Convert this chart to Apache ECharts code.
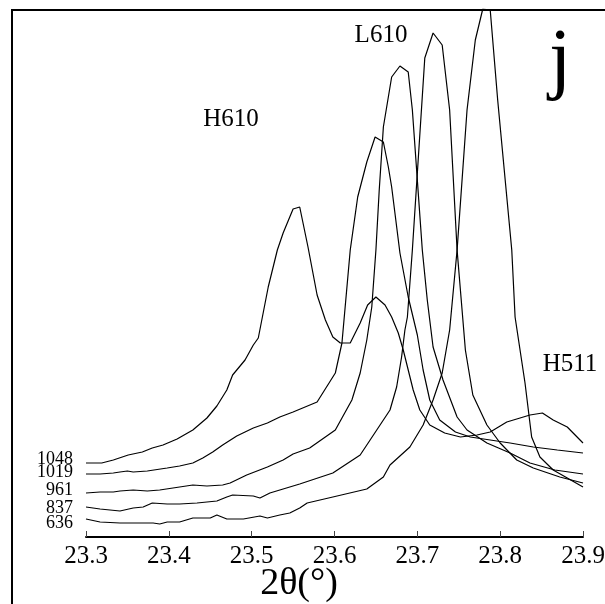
<!DOCTYPE html>
<html>
<head>
<meta charset="utf-8">
<script src="https://cdn.jsdelivr.net/npm/echarts@6/dist/echarts.min.js"></script>
<style>
html,body{margin:0;padding:0;background:#fff;overflow:hidden;}
#chart{width:605px;height:604px;}
</style>
</head>
<body>
<div id="chart"></div>
<script>
// temperatures (curve labels), top to bottom
const temps = ['1048', '1019', '961', '837', '636'];

// [2theta (deg), intensity (arb. units)]
const s1048 = [[23.300,74],[23.319,74],[23.333,77],[23.351,82],[23.368,85],[23.380,89],[23.393,92],[23.410,98],[23.429,107],[23.446,119],[23.458,131],[23.470,147],[23.477,162],[23.492,177],[23.502,192],[23.508,199],[23.520,250],[23.531,287],[23.538,304],[23.550,328],[23.558,330],[23.568,290],[23.579,242],[23.589,217],[23.598,200],[23.607,194],[23.619,194],[23.631,214],[23.640,232],[23.650,240],[23.661,232],[23.669,220],[23.677,204],[23.683,187],[23.689,167],[23.695,147],[23.703,127],[23.715,112],[23.733,104],[23.752,100],[23.772,102],[23.788,105],[23.808,115],[23.824,119],[23.836,122],[23.851,124],[23.864,117],[23.881,110],[23.900,94]];

const s1019 = [[23.300,63],[23.317,63],[23.333,64],[23.341,65],[23.350,66],[23.357,65],[23.374,66],[23.398,69],[23.413,71],[23.429,74],[23.441,79],[23.453,85],[23.465,92],[23.482,101],[23.502,109],[23.519,114],[23.534,120],[23.550,125],[23.579,135],[23.601,164],[23.609,194],[23.619,287],[23.628,340],[23.639,375],[23.649,400],[23.659,395],[23.665,370],[23.669,350],[23.679,284],[23.689,240],[23.700,202],[23.707,167],[23.715,137],[23.727,117],[23.746,105],[23.764,100],[23.788,97],[23.812,94],[23.840,90],[23.869,87],[23.900,84]];

const s961 = [[23.300,44],[23.317,45],[23.333,45],[23.341,46],[23.357,47],[23.374,46],[23.389,47],[23.405,49],[23.429,52],[23.446,51],[23.465,52],[23.474,54],[23.494,62],[23.519,70],[23.538,77],[23.550,83],[23.570,89],[23.601,107],[23.621,137],[23.631,164],[23.639,197],[23.645,230],[23.650,287],[23.654,347],[23.659,410],[23.669,460],[23.679,471],[23.689,465],[23.694,427],[23.706,287],[23.712,237],[23.719,190],[23.731,157],[23.748,120],[23.760,107],[23.784,94],[23.812,84],[23.836,74],[23.866,67],[23.900,63]];

const s837 = [[23.300,30],[23.317,28],[23.341,26],[23.357,29],[23.369,30],[23.380,34],[23.398,33],[23.413,33],[23.434,34],[23.458,36],[23.470,40],[23.477,42],[23.502,41],[23.510,39],[23.522,44],[23.538,48],[23.558,53],[23.598,64],[23.631,82],[23.643,97],[23.667,127],[23.675,150],[23.681,180],[23.685,207],[23.688,220],[23.694,287],[23.709,479],[23.719,504],[23.730,492],[23.739,427],[23.748,287],[23.753,237],[23.758,187],[23.767,142],[23.784,112],[23.800,94],[23.820,77],[23.840,69],[23.872,60],[23.900,54]];

const s636 = [[23.300,18],[23.317,15],[23.341,14],[23.362,14],[23.381,14],[23.389,13],[23.398,15],[23.413,15],[23.429,19],[23.450,19],[23.458,22],[23.470,18],[23.490,18],[23.510,21],[23.519,19],[23.534,22],[23.546,24],[23.558,29],[23.567,34],[23.598,40],[23.639,48],[23.659,60],[23.667,72],[23.691,90],[23.707,112],[23.719,137],[23.730,164],[23.739,207],[23.748,287],[23.760,427],[23.770,497],[23.779,528],[23.788,527],[23.797,437],[23.814,287],[23.818,220],[23.830,154],[23.838,100],[23.848,80],[23.864,67],[23.881,59],[23.900,50]];

const seriesData = [s1048, s1019, s961, s837, s636];
const peakLabels = ['H610', 'L610', 'H511'];
const panelLetter = 'j';
const axisName = '2θ(°)';

const FAMILY = 'Liberation Serif';
const FONT = '"Liberation Serif", serif';
const chart = echarts.init(document.getElementById('chart'), null, {renderer: 'canvas', width: 605, height: 604});

const option = {
  animation: false,
  backgroundColor: '#fff',
  grid: {left: 86, right: 22, top: 9, bottom: 67, containLabel: false, outerBoundsMode: 'none'},
  xAxis: {
    type: 'value', min: 23.3, max: 23.9, interval: 0.1,
    axisLine: {show: true, onZero: false, lineStyle: {color: '#000', width: 2}},
    axisTick: {show: true, inside: true, length: 6, lineStyle: {color: '#444', width: 1}},
    axisLabel: {fontFamily: FAMILY, fontSize: 25, color: '#000', margin: 7,
      hideOverlap: false, showMinLabel: true, showMaxLabel: true,
      formatter: v => v.toFixed(1)},
    splitLine: {show: false}
  },
  yAxis: {type: 'value', min: 0, max: 528, show: false, splitLine: {show: false}},
  series: seriesData.map((d, i) => ({
    name: temps[i], type: 'line', data: d, showSymbol: false, symbol: 'none',
    smooth: false, clip: true, silent: true,
    lineStyle: {color: '#000', width: 1.2}
  })),
  graphic: [
    {type: 'polyline', shape: {points: [[12, 604], [12, 10], [605, 10]]},
      style: {stroke: '#000', lineWidth: 2, fill: null}},
    {type: 'text', x: 299, y: 584, style: {text: axisName, font: '38px ' + FONT, fill: '#000', textAlign: 'center', textVerticalAlign: 'middle'}},
    {type: 'text', x: 231, y: 119, style: {text: peakLabels[0], font: '25px ' + FONT, fill: '#000', textAlign: 'center', textVerticalAlign: 'middle'}},
    {type: 'text', x: 381, y: 35, style: {text: peakLabels[1], font: '25px ' + FONT, fill: '#000', textAlign: 'center', textVerticalAlign: 'middle'}},
    {type: 'text', x: 570, y: 364, style: {text: peakLabels[2], font: '25px ' + FONT, fill: '#000', textAlign: 'center', textVerticalAlign: 'middle'}},
    {type: 'text', x: 560, y: 63, style: {text: panelLetter, font: '80px ' + FONT, fill: '#000', textAlign: 'center', textVerticalAlign: 'middle'}},
    {type: 'text', x: 73, y: 459, style: {text: temps[0], font: '18px ' + FONT, fill: '#000', textAlign: 'right', textVerticalAlign: 'middle'}},
    {type: 'text', x: 73, y: 472, style: {text: temps[1], font: '18px ' + FONT, fill: '#000', textAlign: 'right', textVerticalAlign: 'middle'}},
    {type: 'text', x: 73, y: 490, style: {text: temps[2], font: '18px ' + FONT, fill: '#000', textAlign: 'right', textVerticalAlign: 'middle'}},
    {type: 'text', x: 73, y: 508, style: {text: temps[3], font: '18px ' + FONT, fill: '#000', textAlign: 'right', textVerticalAlign: 'middle'}},
    {type: 'text', x: 73, y: 523, style: {text: temps[4], font: '18px ' + FONT, fill: '#000', textAlign: 'right', textVerticalAlign: 'middle'}}
  ]
};
chart.setOption(option);
</script>
</body>
</html>
